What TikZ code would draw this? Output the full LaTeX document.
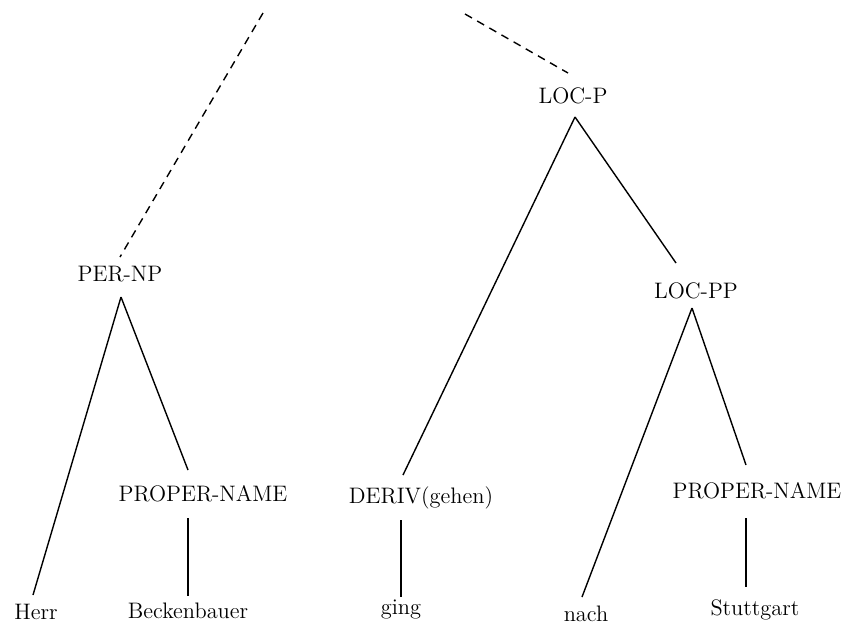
\documentclass[tikz,border=0pt]{standalone}
\begin{document}
\begin{tikzpicture}[x=0.5pt,y=-0.5pt,
  lbl/.style={inner sep=0pt,anchor=base,font=\fontsize{11.2}{13}\selectfont},
  edge/.style={line width=0.7pt},
  dashedge/.style={line width=0.7pt,dash pattern=on 4pt off 3pt}]
\useasboundingbox (0,0) rectangle (846,623);
% labels
\node[lbl] (locp) at (573,103) {LOC-P};
\node[lbl] (pernp) at (120,281) {PER-NP};
\node[lbl] (locpp) at (696,298) {LOC-PP};
\node[lbl] (pn1) at (203,501) {PROPER-NAME};
\node[lbl] (deriv) at (421,503) {DERIV(gehen)};
\node[lbl] (pn2) at (757,498) {PROPER-NAME};
\node[lbl] (herr) at (36,619) {Herr};
\node[lbl] (beck) at (188,618) {Beckenbauer};
\node[lbl] (ging) at (401,614) {ging};
\node[lbl] (nach) at (586,621) {nach};
\node[lbl] (stutt) at (755,615) {Stuttgart};
% attachment points
\coordinate (topL) at (263,13);
\coordinate (topR) at (465,14);
\coordinate (pernpT) at (120,257);
\coordinate (pernpB) at (121,297);
\coordinate (locpT) at (568,73);
\coordinate (locpB) at (575,117);
\coordinate (locppT) at (676,263);
\coordinate (locppB) at (692,308);
\coordinate (pn1T) at (188,470);
\coordinate (pn1B) at (188,518);
\coordinate (derivT) at (403,475);
\coordinate (derivB) at (401,520);
\coordinate (pn2T) at (746,465);
\coordinate (pn2B) at (746,518);
\coordinate (herrT) at (33,595);
\coordinate (beckT) at (188,596);
\coordinate (gingT) at (401,597);
\coordinate (nachT) at (582,597);
\coordinate (stuttT) at (746,587);
% connectors
\draw[dashedge] (topL) -- (pernpT);
\draw[dashedge] (topR) -- (locpT);
\draw[edge] (pernpB) -- (herrT);
\draw[edge] (pernpB) -- (pn1T);
\draw[edge] (pn1B) -- (beckT);
\draw[edge] (locpB) -- (derivT);
\draw[edge] (locpB) -- (locppT);
\draw[edge] (derivB) -- (gingT);
\draw[edge] (locppB) -- (nachT);
\draw[edge] (locppB) -- (pn2T);
\draw[edge] (pn2B) -- (stuttT);
\end{tikzpicture}
\end{document}
